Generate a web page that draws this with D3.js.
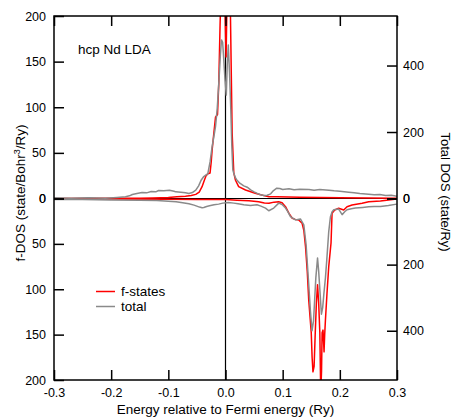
<!DOCTYPE html>
<html><head><meta charset="utf-8">
<script src="https://cdn.jsdelivr.net/npm/d3@7"></script>
<style>
html,body{margin:0;padding:0;background:#fff;}
svg{display:block;font-family:"Liberation Sans",Arial,Helvetica,sans-serif;}
</style></head>
<body>
<svg id="c" width="453" height="417"></svg>
<script>
// ---- data ----
const xTicks = [-0.3,-0.2,-0.1,0.0,0.1,0.2,0.3];
const xTickLabels = ["-0.3","-0.2","-0.1","0.0","0.1","0.2","0.3"];
const leftTicks = [0,50,100,150,200];
const rightTicks = [0,200,400];

// f-states, majority (upper half, left axis)
const fUpE = [-0.3,-0.2,-0.15,-0.127,-0.1,-0.085,-0.07,-0.06,-0.052,-0.046,-0.041,-0.037,-0.034,-0.031,-0.027,-0.025,-0.0234,-0.0205,-0.0175,-0.014,-0.0117,-0.0095,-0.006,-0.003,0.001,0.003,0.0058,0.0087,0.0116,0.0145,0.0175,0.023,0.035,0.052,0.065,0.076,0.09,0.13,0.2,0.3];
const fUpV = [0,0.2,0.3,0.5,1,1.8,2.5,3.2,4.5,7,13,20,25,27,28,40,53,71,89,92,127,190,270,260,155,230,270,199,72,28,20,13,9.3,5.7,3.5,2,1.8,1.3,0.8,0.4];

// total, majority (upper half, right axis)
const totUpE = [-0.3,-0.27,-0.24,-0.21,-0.19,-0.175,-0.168,-0.163,-0.155,-0.146,-0.138,-0.13,-0.122,-0.117,-0.108,-0.098,-0.09,-0.087,-0.078,-0.07,-0.064,-0.058,-0.052,-0.047,-0.0427,-0.038,-0.034,-0.031,-0.027,-0.0234,-0.0205,-0.0175,-0.0145,-0.0117,-0.009,-0.007,-0.005,-0.003,-0.001,0.0014,0.003,0.0049,0.007,0.0093,0.011,0.0128,0.0145,0.0175,0.0198,0.025,0.032,0.038,0.044,0.05,0.0547,0.06,0.067,0.073,0.079,0.084,0.0897,0.095,0.1,0.111,0.12,0.13,0.146,0.155,0.165,0.181,0.19,0.2,0.2156,0.225,0.235,0.2505,0.26,0.27,0.28,0.29,0.3];
const totUpV = [2,1,2,1,3,5,8,12,15,18,17,21,20,24,23,25,22,20,19,17,15,18,25,38,55,66,71,74,110,156,185,216,270,347,430,477,470,417,360,311,400,462,380,266,160,86,76,62,56,46,38,34,26,20,16,12,9,10,14,24,31,30,27,29,26,28,27,25,27,25,23,22,19,17,15,13,11,12,9,10,7];

// f-states, minority (lower half, left axis)
const fDnE = [-0.3,-0.2,-0.1,-0.05,0,0.02,0.041,0.058,0.068,0.076,0.085,0.093,0.099,0.105,0.111,0.1168,0.122,0.128,0.134,0.137,0.14,0.143,0.1456,0.15,0.1515,0.153,0.155,0.157,0.159,0.161,0.163,0.165,0.1666,0.168,0.169,0.1706,0.1724,0.1735,0.1748,0.1775,0.1806,0.1846,0.1864,0.191,0.198,0.2068,0.2126,0.2213,0.239,0.2505,0.271,0.2995];
const fDnV = [0.3,0.5,0.8,1,1.2,1.8,2.4,3.5,5,5.3,4,3.5,4.6,9,16.3,21.8,23,23.7,27.3,35,53,80,112,148,175,191,185,148,115,95,115,148,215,190,148,145,169,150,134,105,75,49,16.3,12.7,10.8,12.7,9,7.2,5.3,3.5,2.8,0.6];

// total, minority (lower half, right axis)
const totDnE = [-0.3,-0.25,-0.2,-0.15,-0.12,-0.1,-0.0864,-0.075,-0.064,-0.055,-0.0455,-0.041,-0.038,-0.033,-0.028,-0.02,-0.012,-0.0047,0.005,0.0145,0.022,0.032,0.0437,0.055,0.062,0.07,0.0757,0.0844,0.0932,0.099,0.105,0.109,0.1136,0.1224,0.131,0.137,0.141,0.1456,0.1485,0.1514,0.154,0.156,0.158,0.161,0.163,0.165,0.1678,0.17,0.172,0.1748,0.1772,0.1806,0.1836,0.1865,0.1894,0.198,0.204,0.2085,0.2126,0.22,0.2273,0.24,0.2505,0.26,0.271,0.285,0.2995];
const totDnV = [3,3,4.5,5,6,8,10,13,16,20,26,28,27,24,22,19,17,14,12,14,16,19,21,19,23,29,37,29,14,18,29,40,55,65,62,80,140,260,340,400,370,305,240,180,220,275,350,330,290,240,185,100,55,40,34,32,49,40,34,31,29,27,25,24,24,21,17];

// ---- layout ----
const L = 54, R = 397, T = 16, B = 380, Z = 198.5;
const svg = d3.select("#c");

const x = d3.scaleLinear().domain([-0.3,0.3]).range([L,R]);
const yLUp = d3.scaleLinear().domain([0,200]).range([Z,T]);
const yLDn = d3.scaleLinear().domain([0,200]).range([Z,B]);
const yRUp = d3.scaleLinear().domain([0,549]).range([Z,T]);
const yRDn = d3.scaleLinear().domain([0,549]).range([Z,B]);

svg.append("defs").append("clipPath").attr("id","clip")
  .append("rect").attr("x",L).attr("y",T).attr("width",R-L).attr("height",B-T);

const plot = svg.append("g").attr("clip-path","url(#clip)");

// zero lines
plot.append("line").attr("x1",L).attr("x2",R).attr("y1",Z).attr("y2",Z)
  .attr("stroke","#000").attr("stroke-width",1.2);
plot.append("line").attr("x1",x(0)).attr("x2",x(0)).attr("y1",T).attr("y2",B)
  .attr("stroke","#000").attr("stroke-width",1.2);

function drawLine(E,V,ys,color,w){
  const pts = E.map((e,i)=>[e,V[i]]);
  plot.append("path").datum(pts)
    .attr("fill","none").attr("stroke",color).attr("stroke-width",w)
    .attr("stroke-linejoin","round")
    .attr("d", d3.line().x(d=>x(d[0])).y(d=>ys(d[1])));
}
const RED = "#ff0000", GRAY = "#8a8a8a";
drawLine(fUpE,fUpV,yLUp,RED,1.5);
drawLine(fDnE,fDnV,yLDn,RED,1.5);
drawLine(totUpE,totUpV,yRUp,GRAY,1.5);
drawLine(totDnE,totDnV,yRDn,GRAY,1.5);

// frame
svg.append("rect").attr("x",L).attr("y",T).attr("width",R-L).attr("height",B-T)
  .attr("fill","none").attr("stroke","#000").attr("stroke-width",1.5);

const fs = "12.5px";
function styleAxis(g){
  g.select(".domain").remove();
  g.selectAll(".tick line").attr("stroke","#000").attr("stroke-width",1.5);
  g.selectAll("text").attr("fill","#000").style("font-size",fs)
    .style("font-family","'Liberation Sans',Arial,Helvetica,sans-serif");
}

// bottom axis
svg.append("g").attr("transform",`translate(0,${B})`)
  .call(d3.axisBottom(x).tickValues(xTicks).tickFormat((d,i)=>xTickLabels[i]).tickSizeInner(-10).tickSizeOuter(0).tickPadding(8))
  .call(styleAxis);
// top axis (ticks only)
svg.append("g").attr("transform",`translate(0,${T})`)
  .call(d3.axisTop(x).tickValues(xTicks).tickFormat("").tickSizeInner(-10).tickSizeOuter(0))
  .call(styleAxis);
// left axes
svg.append("g").attr("transform",`translate(${L},0)`)
  .call(d3.axisLeft(yLUp).tickValues(leftTicks).tickFormat(d3.format("d")).tickSizeInner(-10).tickSizeOuter(0).tickPadding(8))
  .call(styleAxis);
svg.append("g").attr("transform",`translate(${L},0)`)
  .call(d3.axisLeft(yLDn).tickValues(leftTicks).tickFormat(d3.format("d")).tickSizeInner(-10).tickSizeOuter(0).tickPadding(8))
  .call(styleAxis);
// right axes
svg.append("g").attr("transform",`translate(${R},0)`)
  .call(d3.axisRight(yRUp).tickValues(rightTicks).tickFormat(d3.format("d")).tickSizeInner(-10).tickSizeOuter(0).tickPadding(6))
  .call(styleAxis);
svg.append("g").attr("transform",`translate(${R},0)`)
  .call(d3.axisRight(yRDn).tickValues(rightTicks).tickFormat(d3.format("d")).tickSizeInner(-10).tickSizeOuter(0).tickPadding(6))
  .call(styleAxis);

const tf = "'Liberation Sans',Arial,Helvetica,sans-serif";
// axis titles
svg.append("text").attr("x",(L+R)/2).attr("y",414).attr("text-anchor","middle")
  .style("font-size","13.5px").style("font-family",tf).text("Energy relative to Fermi energy (Ry)");

const lt = svg.append("text").attr("transform","translate(25,193) rotate(-90)")
  .attr("text-anchor","middle").style("font-size","13.5px").style("font-family",tf);
lt.append("tspan").text("f-DOS (state/Bohr");
lt.append("tspan").attr("dy","-5").style("font-size","9px").text("3");
lt.append("tspan").attr("dy","5").text("/Ry)");

svg.append("text").attr("transform","translate(441,192) rotate(90)")
  .attr("text-anchor","middle").style("font-size","13px").style("font-family",tf)
  .text("Total DOS (state/Ry)");

// annotation
svg.append("text").attr("x",78).attr("y",54).style("font-size","13.5px").style("font-family",tf).text("hcp Nd LDA");

// legend
const legend = [{label:"f-states",color:RED,y:291.5},{label:"total",color:GRAY,y:306.5}];
legend.forEach(d=>{
  svg.append("line").attr("x1",96).attr("x2",115).attr("y1",d.y).attr("y2",d.y)
    .attr("stroke",d.color).attr("stroke-width",1.5);
  svg.append("text").attr("x",121).attr("y",d.y+4.5).style("font-size","13.5px").style("font-family",tf).text(d.label);
});
</script>
</body></html>
